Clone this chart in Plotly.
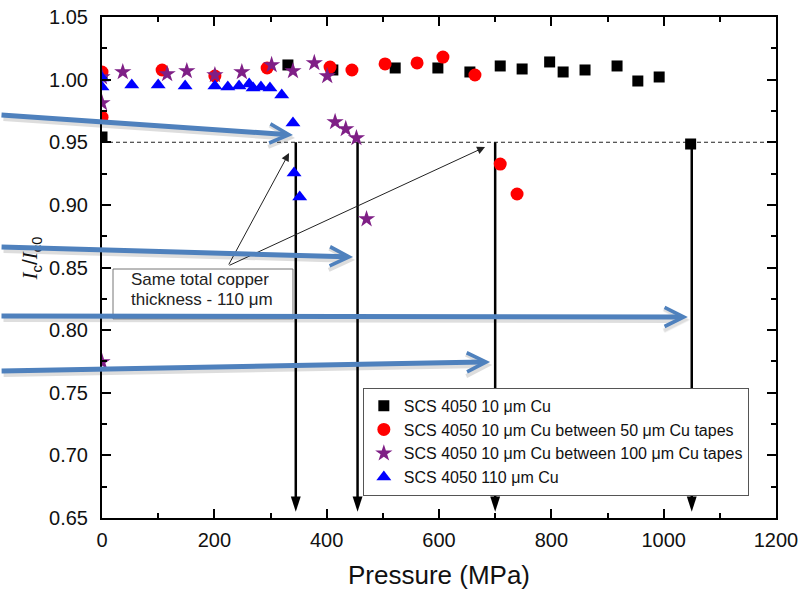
import plotly.graph_objects as go

# ---------------- data ----------------
sq_x = [0, 0, 331, 411, 522, 598, 655, 709, 748, 797, 821, 860, 917, 954, 992, 1048]
sq_y = [1.004, 0.9542, 1.0117, 1.0077, 1.0093, 1.0093, 1.0061, 1.0109, 1.0085, 1.0141,
        1.0061, 1.0077, 1.0109, 0.9989, 1.0021, 0.9486]

ci_x = [0, 0, 107, 201, 294, 406, 445, 504, 561, 607, 664, 709, 739]
ci_y = [1.006, 0.970, 1.0077, 1.0029, 1.0093, 1.0100, 1.0077, 1.0125, 1.0133, 1.0180,
        1.0037, 0.9326, 0.9087]

st_x = [0, 0, 0, 37, 116, 151, 201, 249, 302, 340, 378, 401, 415, 434, 453, 471]
st_y = [1.002, 0.9813, 0.7746, 1.0061, 1.0045, 1.0069, 1.0037, 1.0061, 1.0117, 1.0069,
        1.0133, 1.0029, 0.9662, 0.9606, 0.9534, 0.8887]

tr_x = [0, 0, 53, 100, 148, 201, 224, 244, 262, 269, 283, 299, 320, 340, 342, 352]
tr_y = [1.0013, 0.9941, 0.9957, 0.9957, 0.9949, 0.9949, 0.9941, 0.9949, 0.9965, 0.9933,
        0.9941, 0.9933, 0.9877, 0.9654, 0.9254, 0.9063]

series_names = [
    "SCS 4050 10 μm Cu",
    "SCS 4050 10 μm Cu between 50 μm Cu tapes",
    "SCS 4050 10 μm Cu between 100 μm Cu tapes",
    "SCS 4050 110 μm Cu",
]

# pressures at which Ic/Ic0 reaches the 0.95 criterion
limit_x = [345, 455, 700, 1050]
criterion = 0.95
y_min, y_max = 0.65, 1.05
x_min, x_max = 0, 1200

FONT = "Arial, Liberation Sans, sans-serif"

fig = go.Figure()

# vertical black arrows from the 0.95 criterion down to the axis
for px in limit_x:
    fig.add_trace(go.Scatter(
        x=[px, px], y=[criterion, 0.655], mode="lines+markers",
        line=dict(color="black", width=2.5),
        marker=dict(symbol="arrow", size=[0, 16], angleref="previous", color="black",
                    opacity=1, line=dict(width=0, color="black")),
        showlegend=False, hoverinfo="skip", cliponaxis=False))

styles = [
    dict(symbol="square", size=11, color="#000000"),
    dict(symbol="circle", size=13, color="#FF0000"),
    dict(symbol="star", size=13, color="#7F1F86"),
    dict(symbol="triangle-up", size=13, color="#0000FF"),
]
for (xs, ys), name, st in zip([(sq_x, sq_y), (ci_x, ci_y), (st_x, st_y), (tr_x, tr_y)],
                              series_names, styles):
    fig.add_trace(go.Scatter(x=xs, y=ys, mode="markers", name=name,
                             marker=dict(symbol=st["symbol"], size=st["size"], color=st["color"],
                                         line=dict(width=0))))

# dashed criterion line
fig.add_shape(type="line", xref="paper", x0=0, x1=1, yref="y", y0=criterion, y1=criterion,
              line=dict(color="#222", width=1, dash="4px,3px"), layer="below")

# text box
fig.add_shape(type="rect", xref="x", yref="y", x0=19.6, x1=340, y0=0.809, y1=0.8488,
              line=dict(color="#777", width=1), fillcolor="white", layer="above")
fig.add_annotation(x=48, y=0.8405, xref="x", yref="y", xanchor="left", yanchor="middle",
                   text="Same total copper", showarrow=False,
                   font=dict(family=FONT, size=17, color="#222"))
fig.add_annotation(x=48, y=0.8245, xref="x", yref="y", xanchor="left", yanchor="middle",
                   text="thickness - 110 μm", showarrow=False,
                   font=dict(family=FONT, size=17, color="#222"))

# thin pointer arrows from the text box
for hx, hy in [(333, 0.9414), (682, 0.9462)]:
    fig.add_annotation(x=hx, y=hy, ax=224.3, ay=0.8512, xref="x", yref="y", axref="x", ayref="y",
                       text="", showarrow=True, arrowhead=2, arrowsize=1.6, arrowwidth=1,
                       arrowcolor="#222")

# y-axis title (placed as annotation for exact position)
fig.add_annotation(xref="paper", yref="paper", x=-0.104, y=0.518, xanchor="center", yanchor="middle",
                   textangle=-90, showarrow=False,
                   text="<span style='font-family:Liberation Serif'><i>I</i></span><sub>c</sub>"
                        "/<span style='font-family:Liberation Serif'><i>I</i></span><sub>c0</sub>",
                   font=dict(family=FONT, size=21, color="#111"))

# blue overlay arrows (head in data coords, tail offset in px)
blue_arrows = [(340, 0.9558, -293, -20), (447, 0.8584, -353, -10),
               (1043, 0.8105, -688, -1), (691, 0.7746, -490, 9)]
for hx, hy, ax, ay in blue_arrows:
    fig.add_annotation(x=hx, y=hy, ax=ax, ay=ay, xref="x", yref="y", text="",
                       showarrow=True, arrowhead=5, arrowsize=0.7, arrowwidth=6,
                       arrowcolor="rgba(0,0,0,0.13)", xshift=2, yshift=-3)
for hx, hy, ax, ay in blue_arrows:
    fig.add_annotation(x=hx, y=hy, ax=ax, ay=ay, xref="x", yref="y", text="",
                       showarrow=True, arrowhead=5, arrowsize=0.75, arrowwidth=5,
                       arrowcolor="#4F81BD")

axis_common = dict(
    showline=True, linewidth=2, linecolor="black", mirror="ticks",
    ticks="inside", ticklen=9, tickwidth=1.5, tickcolor="black",
    showgrid=False, zeroline=False, automargin=False,
    tickfont=dict(family=FONT, size=20, color="#111"),
)

fig.update_xaxes(range=[x_min, x_max], dtick=200, tick0=0,
                 minor=dict(dtick=100, ticks="inside", ticklen=5, tickwidth=1.5, tickcolor="black"),
                 ticklabelstandoff=3,
                 title=dict(text="Pressure (MPa)", font=dict(family=FONT, size=26, color="#111"),
                            standoff=16),
                 **axis_common)
fig.update_yaxes(range=[y_min, y_max], dtick=0.05, tick0=0.65, tickformat=".2f",
                 minor=dict(dtick=0.025, ticks="inside", ticklen=5, tickwidth=1.5, tickcolor="black"),
                 ticklabelstandoff=8,
                 **axis_common)

fig.update_layout(
    width=810, height=591,
    margin=dict(l=102, r=34, t=17, b=73),
    paper_bgcolor="white", plot_bgcolor="white",
    font=dict(family=FONT, color="#111"),
    legend=dict(x=0.387, y=0.26, xanchor="left", yanchor="top",
                bgcolor="white", bordercolor="#555", borderwidth=1,
                font=dict(family=FONT, size=16, color="#111"),
                tracegroupgap=0),
    showlegend=True,
)

fig.write_html("out.html")
